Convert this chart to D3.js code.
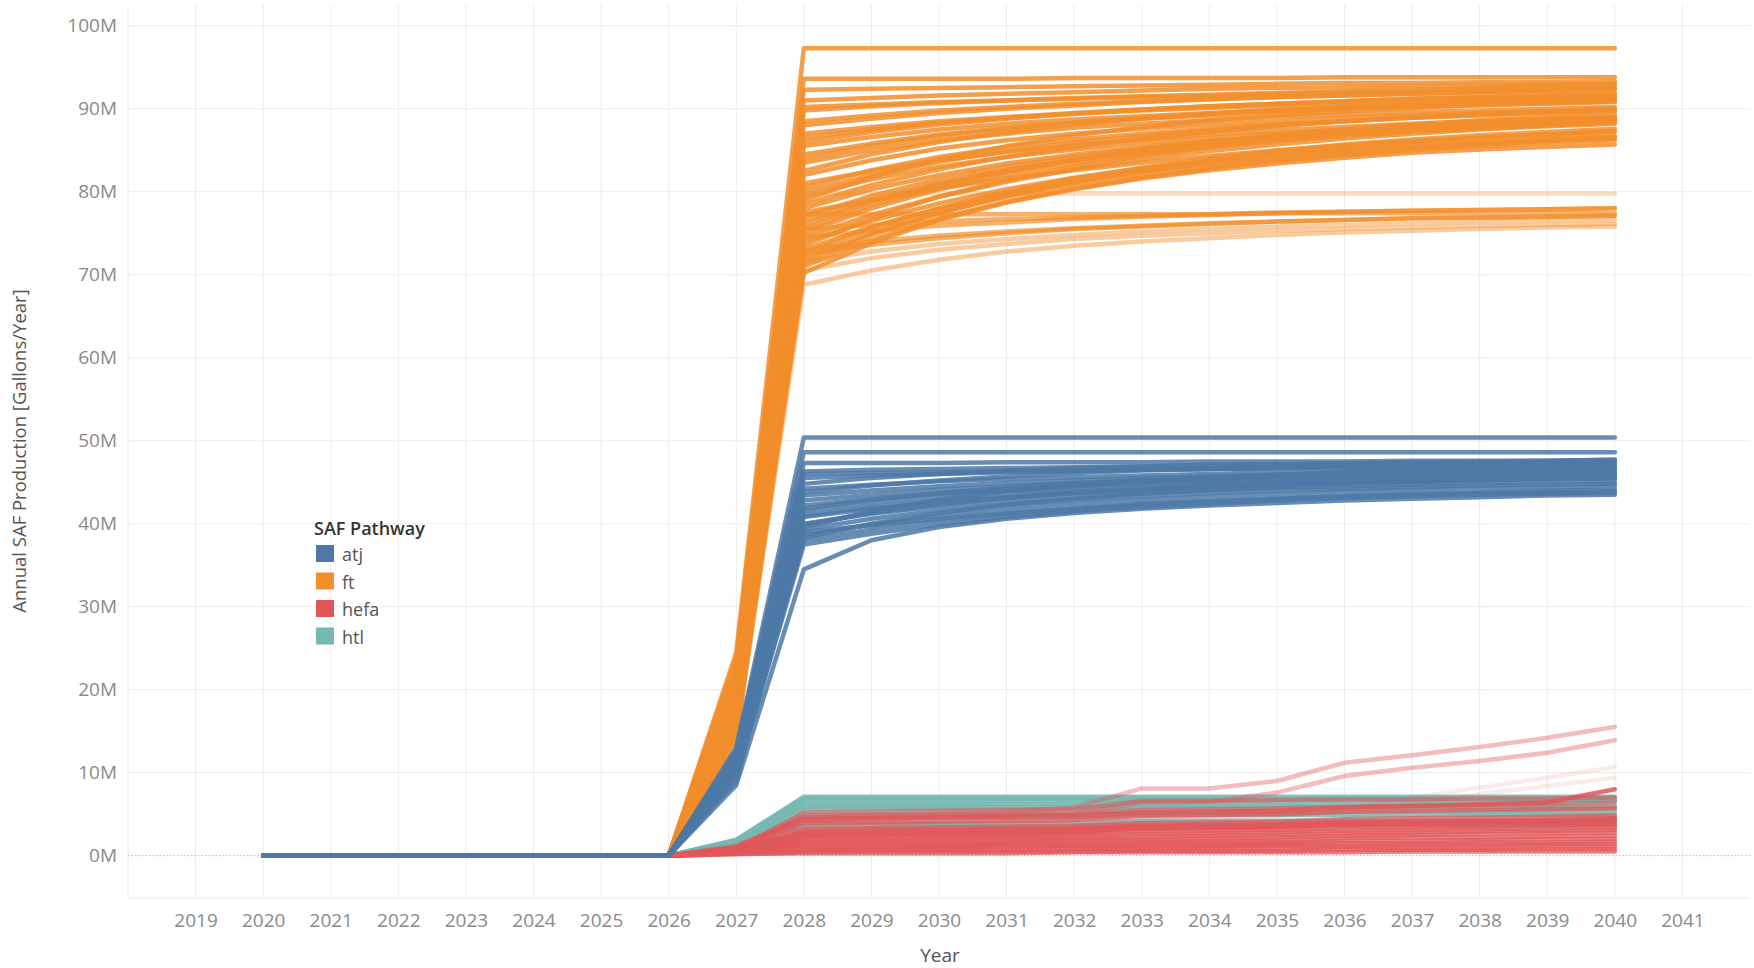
<!DOCTYPE html>
<html>
<head>
<meta charset="utf-8">
<script src="https://cdn.jsdelivr.net/npm/d3@7/dist/d3.min.js"></script>
<style>
  body { margin: 0; background: #fff; }
  text { font-family: 'Open Sans', 'Noto Sans', sans-serif; }
</style>
</head>
<body>
<svg id="chart" width="1754" height="968"></svg>
<script>
// Years where every run is still at 0
const leadYears = [2020, 2021, 2022, 2023, 2024, 2025, 2026];
// Years covered by each run below (values in million gallons / year)
const rampYears = [2027, 2028, 2029, 2030, 2031, 2032, 2033, 2034, 2035, 2036, 2037, 2038, 2039, 2040];

const pathways = ['atj', 'ft', 'hefa', 'htl'];

const atjRuns = [
  [13.0, 50.4, 50.4, 50.4, 50.4, 50.4, 50.4, 50.4, 50.4, 50.4, 50.4, 50.4, 50.4, 50.4],
  [12.8, 48.6, 48.6, 48.6, 48.6, 48.6, 48.6, 48.6, 48.6, 48.6, 48.6, 48.6, 48.6, 48.6],
  [12.5, 47.3, 47.3, 47.3, 47.4, 47.4, 47.4, 47.5, 47.5, 47.5, 47.6, 47.6, 47.6, 47.7],
  [12.3, 46.0, 46.1, 46.2, 46.3, 46.4, 46.5, 46.6, 46.7, 46.7, 46.8, 46.8, 46.9, 46.9],
  [12.2, 46.3, 46.5, 46.6, 46.7, 46.8, 46.9, 47.0, 47.1, 47.2, 47.3, 47.3, 47.4, 47.5],
  [12.0, 45.5, 45.8, 46.0, 46.2, 46.3, 46.5, 46.6, 46.7, 46.8, 46.9, 47.0, 47.1, 47.2],
  [11.6, 44.8, 45.5, 46.0, 46.4, 46.7, 46.9, 47.1, 47.2, 47.3, 47.4, 47.5, 47.6, 47.7],
  [11.8, 44.2, 44.7, 45.1, 45.4, 45.6, 45.8, 46.0, 46.2, 46.3, 46.4, 46.5, 46.6, 46.7],
  [11.4, 43.8, 44.6, 45.2, 45.7, 46.1, 46.4, 46.6, 46.8, 47.0, 47.1, 47.2, 47.3, 47.4],
  [11.5, 43.4, 44.0, 44.5, 44.9, 45.2, 45.5, 45.7, 45.9, 46.1, 46.2, 46.3, 46.4, 46.5],
  [11.0, 42.8, 43.5, 44.1, 44.5, 44.9, 45.2, 45.4, 45.6, 45.8, 45.9, 46.0, 46.1, 46.2],
  [11.2, 42.2, 43.0, 43.6, 44.1, 44.5, 44.8, 45.1, 45.3, 45.5, 45.7, 45.8, 45.9, 46.0],
  [10.9, 41.8, 42.9, 43.7, 44.3, 44.8, 45.2, 45.5, 45.8, 46.0, 46.2, 46.3, 46.4, 46.5],
  [11.0, 41.5, 42.5, 43.3, 43.9, 44.3, 44.7, 45.0, 45.3, 45.5, 45.7, 45.9, 46.0, 46.1],
  [10.6, 41.0, 42.0, 42.8, 43.4, 43.9, 44.2, 44.5, 44.8, 45.0, 45.2, 45.3, 45.4, 45.5],
  [10.8, 40.8, 41.8, 42.6, 43.2, 43.7, 44.1, 44.4, 44.7, 44.9, 45.1, 45.3, 45.4, 45.5],
  [10.5, 40.0, 41.2, 42.1, 42.8, 43.3, 43.7, 44.0, 44.3, 44.5, 44.7, 44.9, 45.0, 45.1],
  [10.0, 39.9, 41.3, 42.3, 43.1, 43.7, 44.2, 44.6, 44.9, 45.2, 45.4, 45.6, 45.7, 45.8],
  [10.4, 39.6, 41.5, 42.9, 43.9, 44.6, 45.2, 45.6, 45.9, 46.2, 46.4, 46.6, 46.7, 46.8],
  [10.2, 39.3, 40.6, 41.6, 42.3, 42.9, 43.3, 43.7, 44.0, 44.2, 44.4, 44.6, 44.7, 44.8],
  [9.0, 39.0, 39.8, 40.6, 41.3, 41.9, 42.4, 42.8, 43.1, 43.4, 43.6, 43.8, 44.0, 44.1],
  [10.0, 38.6, 39.9, 41.0, 41.8, 42.4, 42.9, 43.3, 43.6, 43.9, 44.1, 44.3, 44.4, 44.5],
  [9.6, 38.3, 40.0, 41.3, 42.3, 43.0, 43.6, 44.1, 44.5, 44.8, 45.0, 45.2, 45.4, 45.5],
  [9.8, 38.0, 39.3, 40.4, 41.2, 41.8, 42.3, 42.7, 43.0, 43.3, 43.5, 43.7, 43.8, 43.9],
  [9.5, 37.5, 38.8, 39.9, 40.8, 41.5, 42.0, 42.4, 42.8, 43.1, 43.3, 43.5, 43.6, 43.7],
  [8.5, 34.5, 38.0, 39.6, 40.6, 41.3, 41.8, 42.2, 42.5, 42.8, 43.0, 43.2, 43.4, 43.5],
];

const ftRuns = [
  [24.5, 97.3, 97.3, 97.3, 97.3, 97.3, 97.3, 97.3, 97.3, 97.3, 97.3, 97.3, 97.3, 97.3],
  [23.8, 93.6, 93.6, 93.6, 93.6, 93.7, 93.7, 93.7, 93.7, 93.8, 93.8, 93.8, 93.8, 93.8],
  [23.5, 92.3, 92.4, 92.5, 92.6, 92.7, 92.8, 92.9, 93.0, 93.1, 93.1, 93.2, 93.2, 93.3],
  [22.5, 91.0, 91.3, 91.6, 91.8, 92.0, 92.2, 92.4, 92.5, 92.6, 92.7, 92.8, 92.9, 93.0],
  [22.5, 90.2, 90.5, 90.8, 91.0, 91.2, 91.4, 91.6, 91.8, 92.0, 92.1, 92.3, 92.4, 92.5],
  [22.0, 89.8, 90.3, 90.7, 91.0, 91.3, 91.5, 91.7, 91.9, 92.1, 92.3, 92.5, 92.7, 92.9],
  [22.0, 88.5, 89.2, 89.8, 90.2, 90.6, 90.9, 91.2, 91.4, 91.6, 91.8, 92.0, 92.1, 92.3],
  [21.5, 88.0, 88.8, 89.5, 90.0, 90.4, 90.8, 91.1, 91.4, 91.6, 91.8, 92.0, 92.2, 92.4],
  [21.0, 87.0, 87.8, 88.5, 89.0, 89.5, 89.9, 90.3, 90.6, 90.9, 91.2, 91.4, 91.6, 91.8],
  [20.5, 86.5, 87.5, 88.3, 88.9, 89.4, 89.8, 90.1, 90.4, 90.7, 90.9, 91.1, 91.3, 91.5],
  [21.0, 86.0, 87.2, 88.1, 88.8, 89.4, 89.9, 90.3, 90.6, 90.9, 91.2, 91.4, 91.6, 91.8],
  [20.0, 85.5, 86.6, 87.5, 88.2, 88.7, 89.1, 89.5, 89.8, 90.1, 90.3, 90.5, 90.7, 90.9],
  [21.0, 84.5, 85.8, 86.9, 87.7, 88.3, 88.8, 89.2, 89.6, 89.9, 90.2, 90.4, 90.6, 90.8],
  [20.5, 84.0, 85.5, 86.7, 87.6, 88.3, 88.9, 89.4, 89.8, 90.2, 90.5, 90.8, 91.0, 91.2],
  [20.0, 83.5, 85.0, 86.2, 87.0, 87.7, 88.2, 88.6, 89.0, 89.3, 89.6, 89.8, 90.0, 90.2],
  [19.5, 82.5, 84.5, 86.0, 87.2, 88.1, 88.8, 89.4, 89.9, 90.3, 90.6, 90.9, 91.2, 91.4],
  [19.5, 82.0, 83.8, 85.2, 86.2, 87.0, 87.6, 88.1, 88.5, 88.9, 89.2, 89.5, 89.7, 89.9],
  [20.0, 81.0, 82.5, 83.8, 84.8, 85.6, 86.3, 86.9, 87.4, 87.8, 88.2, 88.5, 88.8, 89.0],
  [19.0, 80.5, 82.6, 84.2, 85.4, 86.3, 87.0, 87.6, 88.1, 88.5, 88.9, 89.2, 89.5, 89.7],
  [19.0, 80.0, 82.0, 83.6, 84.9, 85.9, 86.7, 87.4, 88.0, 88.5, 88.9, 89.3, 89.6, 89.9],
  [19.0, 79.5, 81.5, 83.0, 84.2, 85.1, 85.9, 86.5, 87.0, 87.5, 87.9, 88.2, 88.5, 88.8],
  [17.5, 79.0, 81.8, 83.9, 85.5, 86.8, 87.8, 88.6, 89.2, 89.7, 90.1, 90.5, 90.8, 91.0],
  [18.5, 78.5, 80.8, 82.7, 84.2, 85.4, 86.4, 87.2, 87.9, 88.5, 89.0, 89.4, 89.7, 90.0],
  [18.5, 78.0, 80.3, 82.0, 83.4, 84.5, 85.4, 86.1, 86.7, 87.2, 87.6, 88.0, 88.3, 88.6],
  [19.0, 77.5, 79.0, 80.4, 81.6, 82.6, 83.5, 84.3, 85.0, 85.6, 86.1, 86.5, 86.9, 87.2],
  [18.0, 77.0, 79.5, 81.5, 83.0, 84.2, 85.2, 86.0, 86.6, 87.1, 87.6, 88.0, 88.3, 88.6],
  [18.0, 76.5, 79.0, 81.0, 82.6, 83.9, 85.0, 85.9, 86.7, 87.3, 87.8, 88.2, 88.6, 88.9],
  [18.0, 76.0, 78.8, 80.9, 82.5, 83.8, 84.8, 85.6, 86.3, 86.9, 87.4, 87.8, 88.1, 88.4],
  [17.5, 75.5, 78.4, 80.6, 82.4, 83.8, 85.0, 86.0, 86.8, 87.5, 88.1, 88.6, 89.0, 89.3],
  [17.5, 75.0, 78.0, 80.3, 82.0, 83.4, 84.5, 85.4, 86.1, 86.7, 87.2, 87.6, 88.0, 88.3],
  [18.0, 74.5, 77.2, 79.4, 81.2, 82.7, 83.9, 84.9, 85.7, 86.4, 87.0, 87.5, 87.9, 88.2],
  [17.0, 74.0, 76.5, 78.6, 80.3, 81.7, 82.8, 83.7, 84.5, 85.1, 85.6, 86.0, 86.4, 86.7],
  [17.0, 73.5, 76.8, 79.4, 81.4, 83.0, 84.3, 85.4, 86.3, 87.0, 87.6, 88.1, 88.5, 88.8],
  [17.0, 73.0, 75.8, 78.0, 79.8, 81.2, 82.4, 83.4, 84.2, 84.9, 85.4, 85.9, 86.3, 86.6],
  [16.5, 72.5, 75.6, 78.0, 80.0, 81.6, 82.9, 84.0, 84.9, 85.7, 86.3, 86.8, 87.2, 87.6],
  [16.5, 72.0, 75.0, 77.5, 79.4, 80.9, 82.1, 83.1, 83.9, 84.6, 85.2, 85.7, 86.1, 86.4],
  [16.0, 71.5, 74.8, 77.4, 79.5, 81.2, 82.6, 83.7, 84.6, 85.4, 86.0, 86.5, 86.9, 87.3],
  [16.0, 71.0, 74.2, 76.8, 78.8, 80.4, 81.7, 82.8, 83.7, 84.4, 85.0, 85.5, 85.9, 86.2],
  [16.0, 70.2, 73.8, 76.6, 78.7, 80.3, 81.6, 82.6, 83.4, 84.1, 84.7, 85.1, 85.4, 85.7],
  [15.0, 79.8, 79.8, 79.8, 79.8, 79.8, 79.8, 79.8, 79.8, 79.8, 79.8, 79.8, 79.8, 79.8],
  [15.5, 77.3, 77.3, 77.3, 77.3, 77.3, 77.3, 77.3, 77.4, 77.4, 77.4, 77.4, 77.4, 77.4],
  [14.5, 75.5, 76.0, 76.4, 76.7, 76.9, 77.1, 77.3, 77.5, 77.6, 77.7, 77.8, 77.9, 78.0],
  [14.5, 74.5, 75.3, 75.9, 76.3, 76.7, 77.0, 77.2, 77.4, 77.6, 77.7, 77.8, 77.9, 78.0],
  [14.5, 73.0, 74.0, 74.7, 75.2, 75.6, 75.9, 76.2, 76.4, 76.6, 76.8, 76.9, 77.0, 77.1],
  [14.0, 72.5, 73.6, 74.4, 75.0, 75.5, 75.8, 76.1, 76.4, 76.6, 76.8, 76.9, 77.0, 77.1],
  [14.0, 71.5, 72.8, 73.7, 74.3, 74.8, 75.2, 75.5, 75.8, 76.0, 76.2, 76.4, 76.5, 76.6],
  [14.0, 70.5, 72.0, 73.0, 73.7, 74.3, 74.7, 75.0, 75.3, 75.5, 75.7, 75.9, 76.0, 76.1],
  [15.0, 68.8, 70.5, 71.8, 72.8, 73.5, 74.0, 74.4, 74.8, 75.1, 75.3, 75.5, 75.7, 75.8],
];

const hefaRuns = [
  [1.2, 4.6, 4.8, 5.0, 5.3, 5.8, 8.1, 8.1, 9.0, 11.2, 12.1, 13.1, 14.2, 15.5],
  [1.1, 4.2, 4.4, 4.6, 4.8, 5.0, 6.4, 6.5, 7.6, 9.6, 10.6, 11.4, 12.4, 13.9],
  [0.9, 3.5, 3.7, 3.9, 4.1, 4.3, 4.6, 4.8, 5.1, 5.6, 7.0, 8.2, 9.4, 10.7],
  [0.9, 3.3, 3.5, 3.6, 3.8, 4.0, 4.3, 4.5, 4.8, 5.3, 6.3, 7.4, 8.4, 9.4],
  [0.8, 5.2, 5.3, 5.4, 5.5, 5.6, 6.6, 6.6, 6.7, 6.8, 6.8, 6.9, 6.9, 7.0],
  [1.0, 4.7, 4.8, 4.9, 5.0, 5.1, 5.5, 5.6, 5.7, 5.9, 6.0, 6.1, 6.2, 6.4],
  [1.0, 4.4, 4.5, 4.6, 4.7, 4.8, 5.2, 5.3, 5.4, 5.8, 6.0, 6.2, 6.4, 8.0],
  [0.9, 3.9, 4.0, 4.1, 4.2, 4.3, 4.8, 4.9, 5.0, 5.3, 5.4, 5.5, 5.6, 5.7],
  [0.8, 3.2, 3.3, 3.4, 3.5, 3.6, 3.9, 4.0, 4.1, 4.4, 4.5, 4.6, 4.7, 4.8],
  [0.8, 2.9, 3.0, 3.1, 3.2, 3.3, 3.6, 3.7, 3.8, 4.0, 4.1, 4.2, 4.3, 4.4],
  [0.6, 2.8, 2.9, 3.0, 3.1, 3.2, 3.5, 3.5, 3.6, 3.8, 3.9, 4.0, 4.1, 4.2],
  [0.7, 2.6, 2.7, 2.8, 2.9, 3.0, 3.2, 3.3, 3.4, 3.6, 3.7, 3.8, 3.9, 4.0],
  [0.7, 2.4, 2.5, 2.6, 2.7, 2.8, 3.3, 3.4, 3.5, 3.9, 4.0, 4.1, 4.2, 4.5],
  [0.7, 2.3, 2.4, 2.5, 2.6, 2.7, 2.9, 3.0, 3.1, 3.3, 3.4, 3.5, 3.6, 3.7],
  [0.6, 2.0, 2.1, 2.2, 2.3, 2.4, 2.6, 2.7, 2.8, 3.0, 3.1, 3.2, 3.3, 3.4],
  [0.6, 1.8, 1.9, 2.0, 2.1, 2.2, 2.3, 2.4, 2.5, 2.7, 2.8, 2.9, 3.0, 3.1],
  [0.5, 1.6, 1.7, 1.8, 1.8, 1.9, 2.0, 2.1, 2.2, 2.4, 2.5, 2.6, 2.7, 2.8],
  [0.5, 1.4, 1.5, 1.5, 1.6, 1.7, 1.8, 1.8, 1.9, 2.1, 2.2, 2.2, 2.3, 2.4],
  [0.4, 1.2, 1.3, 1.3, 1.4, 1.4, 1.5, 1.6, 1.6, 1.8, 1.8, 1.9, 2.0, 2.0],
  [0.4, 1.0, 1.1, 1.1, 1.2, 1.2, 1.3, 1.3, 1.4, 1.5, 1.5, 1.6, 1.6, 1.7],
  [0.3, 0.8, 0.9, 0.9, 1.0, 1.0, 1.1, 1.1, 1.2, 1.2, 1.3, 1.3, 1.4, 1.4],
  [0.3, 0.6, 0.7, 0.7, 0.7, 0.8, 0.8, 0.9, 0.9, 1.0, 1.0, 1.0, 1.1, 1.1],
  [0.2, 0.4, 0.5, 0.5, 0.5, 0.5, 0.6, 0.6, 0.6, 0.7, 0.7, 0.7, 0.8, 0.8],
  [0.2, 0.3, 0.3, 0.3, 0.3, 0.4, 0.4, 0.4, 0.4, 0.4, 0.5, 0.5, 0.5, 0.5],
];

const htlRuns = [
  [1.9, 7.1, 7.1, 7.1, 7.1, 7.1, 7.1, 7.1, 7.1, 7.1, 7.1, 7.1, 7.1, 7.1],
  [1.9, 6.9, 6.9, 6.9, 6.9, 6.9, 6.9, 6.9, 6.9, 6.9, 6.9, 6.9, 6.9, 6.9],
  [1.8, 6.6, 6.6, 6.6, 6.6, 6.6, 6.7, 6.7, 6.7, 6.7, 6.7, 6.7, 6.7, 6.8],
  [1.7, 6.2, 6.2, 6.2, 6.2, 6.2, 6.4, 6.4, 6.4, 6.5, 6.5, 6.5, 6.5, 6.6],
  [1.7, 5.9, 5.9, 5.9, 5.9, 5.9, 6.0, 6.0, 6.0, 6.0, 6.0, 6.0, 6.0, 6.0],
  [1.6, 5.6, 5.6, 5.6, 5.6, 5.6, 5.8, 5.8, 5.8, 5.8, 5.8, 5.8, 5.8, 5.8],
  [1.5, 5.0, 5.0, 5.0, 5.0, 5.0, 5.3, 5.3, 5.3, 5.3, 5.3, 5.3, 5.3, 5.3],
  [1.5, 4.6, 4.6, 4.6, 4.6, 4.6, 4.9, 4.9, 4.9, 4.9, 4.9, 4.9, 4.9, 4.9],
  [1.4, 3.9, 3.9, 3.9, 3.9, 3.9, 4.2, 4.2, 4.2, 4.2, 4.2, 4.2, 4.2, 4.2],
  [1.4, 3.5, 3.5, 3.5, 3.5, 3.5, 3.7, 3.7, 3.7, 3.7, 3.7, 3.7, 3.7, 3.7],
];

const yTicks = [0, 10, 20, 30, 40, 50, 60, 70, 80, 90, 100]; // millions
const xTicks = d3.range(2019, 2042);

// ---- styling (not data) ----
const color = { atj: '#4e79a7', ft: '#f28e2b', hefa: '#e15759', htl: '#76b7b2' };
// per-run opacity, Tableau shows the rarer runs fainter
const ftAlpha = ftRuns.map((d, i) => (i === 39 ? 0.3 : i >= 45 ? 0.45 : i >= 40 ? 0.7 : 0.85));
const alpha = {
  atj: atjRuns.map(() => 0.85),
  ft: ftAlpha,
  hefa: hefaRuns.map((d, i) => [0.4, 0.4, 0.12, 0.12, 0.6, 0.6, 0.85][i] || 0.75),
  htl: htlRuns.map(() => 0.85),
};
const runs = { atj: atjRuns, ft: ftRuns, hefa: hefaRuns, htl: htlRuns };
const drawOrder = ['htl', 'hefa', 'ft', 'atj'];

const plot = { left: 128, right: 1750, top: 5, bottom: 898 };
const gridColor = '#ececec';
const axisTextColor = '#8a8a8a';

const svg = d3.select('#chart');
const x = d3.scaleLinear().domain([2018, 2042]).range([plot.left, plot.right]);
const y = d3.scaleLinear().domain([-5.1, 102.5]).range([plot.bottom, plot.top]);

function drawGrid() {
  const g = svg.append('g').attr('class', 'grid');

  g.selectAll('line.v')
    .data(d3.range(2018, 2042))
    .join('line')
    .attr('class', 'v')
    .attr('x1', (d) => x(d))
    .attr('x2', (d) => x(d))
    .attr('y1', plot.top)
    .attr('y2', plot.bottom)
    .attr('stroke', gridColor)
    .attr('stroke-width', 1);

  g.selectAll('line.h')
    .data(yTicks.filter((d) => d !== 0))
    .join('line')
    .attr('class', 'h')
    .attr('x1', plot.left)
    .attr('x2', plot.right)
    .attr('y1', (d) => y(d))
    .attr('y2', (d) => y(d))
    .attr('stroke', gridColor)
    .attr('stroke-width', 1);

  // bottom edge of the pane
  g.append('line')
    .attr('x1', plot.left)
    .attr('x2', plot.right)
    .attr('y1', plot.bottom)
    .attr('y2', plot.bottom)
    .attr('stroke', '#e6e6e6');

  // zero line is dotted in Tableau
  g.append('line')
    .attr('x1', plot.left)
    .attr('x2', plot.right)
    .attr('y1', y(0))
    .attr('y2', y(0))
    .attr('stroke', '#b5b5b5')
    .attr('stroke-dasharray', '1.5,2');
}

function drawAxes() {
  const yAxis = svg
    .append('g')
    .attr('class', 'axis y')
    .attr('transform', `translate(${plot.left}, 0)`)
    .call(d3.axisLeft(y).tickValues(yTicks).tickFormat((d) => `${d}M`).tickSize(0).tickPadding(11));

  const xAxis = svg
    .append('g')
    .attr('class', 'axis x')
    .attr('transform', `translate(0, ${plot.bottom})`)
    .call(d3.axisBottom(x).tickValues(xTicks).tickFormat(d3.format('d')).tickSize(0).tickPadding(16));

  [yAxis, xAxis].forEach((a) => {
    a.select('.domain').remove();
    a.selectAll('text')
      .attr('fill', axisTextColor)
      .attr('font-size', 19)
      .style('font-family', "'Open Sans', 'Noto Sans', sans-serif");
  });

  svg
    .append('text')
    .attr('x', 940)
    .attr('y', 962)
    .attr('text-anchor', 'middle')
    .attr('font-size', 19)
    .attr('fill', '#555')
    .text('Year');

  svg
    .append('text')
    .attr('transform', 'translate(26, 451) rotate(-90)')
    .attr('text-anchor', 'middle')
    .attr('font-size', 18.5)
    .attr('fill', '#555')
    .text('Annual SAF Production [Gallons/Year]');
}

function drawRuns() {
  const line = d3
    .line()
    .x((d) => x(d.year))
    .y((d) => y(d.value));

  drawOrder.forEach((key) => {
    const series = runs[key].map((vals) =>
      leadYears.map((year) => ({ year, value: 0 })).concat(vals.map((value, i) => ({ year: rampYears[i], value })))
    );

    svg
      .append('g')
      .attr('class', `runs ${key}`)
      .selectAll('path')
      .data(series)
      .join('path')
      .attr('d', line)
      .attr('fill', 'none')
      .attr('stroke', color[key])
      .attr('stroke-opacity', (d, i) => alpha[key][i])
      .attr('stroke-width', 4.5)
      .attr('stroke-linejoin', 'round')
      .attr('stroke-linecap', 'round');
  });
}

function drawLegend() {
  const g = svg.append('g').attr('class', 'legend').attr('transform', 'translate(314, 535)');

  g.append('text')
    .attr('font-size', 18)
    .attr('font-weight', 600)
    .attr('fill', '#333')
    .text('SAF Pathway');

  const row = g
    .selectAll('g.row')
    .data(pathways)
    .join('g')
    .attr('class', 'row')
    .attr('transform', (d, i) => `translate(0, ${i * 27.5})`);

  row.append('rect')
    .attr('x', 2)
    .attr('y', 10)
    .attr('width', 18)
    .attr('height', 17)
    .attr('fill', (d) => color[d]);

  row.append('text')
    .attr('x', 28)
    .attr('y', 26)
    .attr('font-size', 18)
    .attr('fill', '#555')
    .text((d) => d);
}

drawGrid();
drawRuns();
drawAxes();
drawLegend();
</script>
</body>
</html>
